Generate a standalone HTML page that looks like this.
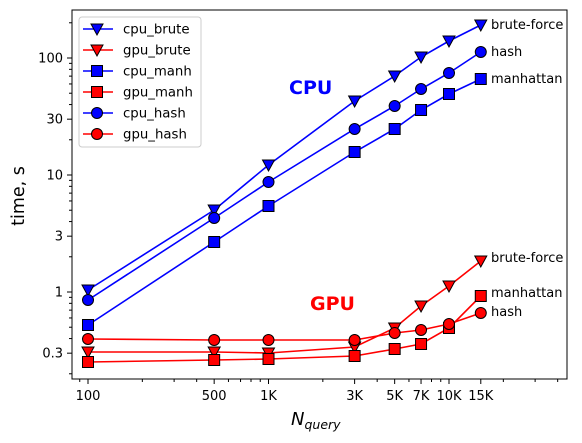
<!DOCTYPE html>
<html><head><meta charset="utf-8"><style>
html,body{margin:0;padding:0;background:#fff;}
svg{display:block;font-family:"DejaVu Sans","Liberation Sans",sans-serif;}
</style></head><body>
<svg id="s" width="582" height="443" viewBox="0 0 582 443" xmlns="http://www.w3.org/2000/svg">
<rect width="582" height="443" fill="#fff"/>
<g id="g"></g>
<rect x="72" y="10" width="495" height="369" fill="none" stroke="#000" stroke-width="1"/>
<text x="289" y="94" font-size="19" font-weight="bold" fill="#0000ff">CPU</text>
<text x="310" y="310" font-size="19" font-weight="bold" fill="#ff0000">GPU</text>
<g font-size="13" fill="#000">
<text x="491" y="29">brute-force</text>
<text x="491" y="56">hash</text>
<text x="491" y="83">manhattan</text>
<text x="491" y="262">brute-force</text>
<text x="491" y="297">manhattan</text>
<text x="491" y="316">hash</text>
</g>
<text transform="translate(24,196) rotate(-90)" text-anchor="middle" font-size="17.5">time, s</text>
<text x="291" y="425" font-size="18" font-style="italic">N<tspan font-size="12.5" dy="4">query</tspan></text>
<rect x="79" y="17" width="122" height="130" rx="3" fill="#fff" fill-opacity="0.8" stroke="#ccc"/>
<g id="leg" font-size="13.3"></g>
</svg>
<script>
var NS="http://www.w3.org/2000/svg";
var g=document.getElementById('g'),leg=document.getElementById('leg');
function el(p,t,a){var e=document.createElementNS(NS,t);for(var k in a)e.setAttribute(k,a[k]);p.appendChild(e);return e;}
function X(n){return 88+180.5*Math.log10(n/100);}
function Y(v){return 292-117*Math.log10(v);}
var maj=[[100,'100'],[500,'500'],[1000,'1K'],[3000,'3K'],[5000,'5K'],[7000,'7K'],[10000,'10K'],[15000,'15K']];
maj.forEach(function(m){var x=X(m[0]);el(g,'line',{x1:x,x2:x,y1:379,y2:384,stroke:'#000'});var t=el(g,'text',{x:x,y:400,'text-anchor':'middle','font-size':'13'});t.textContent=m[1];});
[90,200,300,400,600,700,800,900,2000,4000,6000,8000,9000,20000,30000,40000].forEach(function(n){var x=X(n);el(g,'line',{x1:x,x2:x,y1:379,y2:382,stroke:'#000'});});
[[0.3,'0.3'],[1,'1'],[3,'3'],[10,'10'],[30,'30'],[100,'100']].forEach(function(m){var y=Y(m[0]);el(g,'line',{x1:67,x2:72,y1:y,y2:y,stroke:'#000'});var t=el(g,'text',{x:63,y:y+4.5,'text-anchor':'end','font-size':'13'});t.textContent=m[1];});
[0.2,0.4,0.5,0.6,0.7,0.8,0.9,2,4,5,6,7,8,9,20,40,50,60,70,80,90,200].forEach(function(v){var y=Y(v);el(g,'line',{x1:69,x2:72,y1:y,y2:y,stroke:'#000'});});
var xs=[100,500,1000,3000,5000,7000,10000,15000].map(X);
var series=[
['#0000ff','tri',[290,210,165,101,76,57,41,25]],
['#0000ff','circ',[300,218,182,129,106,89,73,52]],
['#0000ff','sq',[325,242,206,152,129,110,94,79]],
['#ff0000','tri',[352,352,353,347,328,306,286,261]],
['#ff0000','sq',[362,360,359,356,349,344,328,296]],
['#ff0000','circ',[339,340,340,340,333,330,324,313]]];
function mk(p,type,x,y,c){
 if(type=='tri')el(p,'polygon',{points:(x-6)+','+(y-5)+' '+(x+6)+','+(y-5)+' '+x+','+(y+6),fill:c,stroke:'#000','stroke-width':1});
 else if(type=='sq')el(p,'rect',{x:x-5.5,y:y-5.5,width:11,height:11,fill:c,stroke:'#000','stroke-width':1});
 else el(p,'circle',{cx:x,cy:y,r:5.5,fill:c,stroke:'#000','stroke-width':1});
}
series.forEach(function(s){
 el(g,'polyline',{points:xs.map(function(x,i){return x+','+s[2][i];}).join(' '),fill:'none',stroke:s[0],'stroke-width':1.6});
 xs.forEach(function(x,i){mk(g,s[1],x,s[2][i],s[0]);});
});
var L=[['#0000ff','tri','cpu_brute'],['#ff0000','tri','gpu_brute'],['#0000ff','sq','cpu_manh'],['#ff0000','sq','gpu_manh'],['#0000ff','circ','cpu_hash'],['#ff0000','circ','gpu_hash']];
L.forEach(function(l,i){var y=29+21*i;el(leg,'line',{x1:83,x2:113,y1:y,y2:y,stroke:l[0],'stroke-width':1.6});mk(leg,l[1],97,y,l[0]);var t=el(leg,'text',{x:123,y:y+4.5});t.textContent=l[2];});
</script>
</body></html>
